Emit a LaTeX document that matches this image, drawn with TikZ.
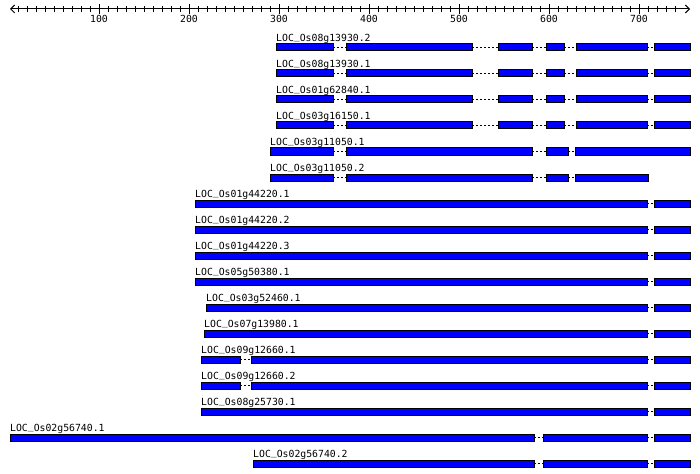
\documentclass[tikz,border=0pt]{standalone}
\usepackage{fontspec}
\setmonofont{DejaVu Sans Mono}
\usetikzlibrary{arrows.meta}
\definecolor{exonblue}{RGB}{0,0,255}
\newcommand\us{\raisebox{2pt}{\_}}
\newcommand\txrow[4]{%
  \pgfmathsetmacro\yc{47.5+26*(#1-1)}%
  \node[lbl] (lab#1) at (#3,\yc-6) {#2};
  \foreach \a/\b [remember=\b as \pb (initially none)] in {#4} {
    \ifx\pb\nonemark\else
      \draw[intron] (\pb,\yc) -- (\a,\yc);
    \fi
  }
  \foreach \a/\b in {#4} {
    \draw[exon] (\a,\yc-3.5) rectangle (\b,\yc+3.5);
  }
}
\def\nonemark{none}
\begin{document}
\begin{tikzpicture}[x=1pt,y=-1pt,
  exon/.style={draw=black, fill=exonblue, line width=1pt},
  intron/.style={draw=black, line width=1pt, dash pattern=on 2pt off 2pt},
  lbl/.style={font=\ttfamily\fontsize{9.8}{10}\selectfont, anchor=base west, inner sep=0pt},
  ticklbl/.style={font=\ttfamily\fontsize{9.8}{10}\selectfont, anchor=base, inner sep=0pt},
  axisline/.style={line width=1pt},
  barb/.tip={Straight Barb[length=4pt,width=8pt,line width=1pt]}]
\useasboundingbox (0,0) rectangle (700,473);
% axis
\coordinate (axL) at (10,9);
\coordinate (axR) at (690,9);
\draw[axisline, barb-barb] (axL) -- (axR);
\foreach \u in {10,20,...,740} {
  \draw[axisline] ({9+0.9*\u},6) -- ++(0,6);
}
\foreach \u in {100,200,...,700} {
  \draw[axisline] ({9+0.9*\u},4) -- ++(0,10);
  \node[ticklbl] (t\u) at ({9+0.9*\u},23) {\u};
}
% transcripts
\txrow{1}{LOC\us Os08g13930.2}{276}{276/333,346/472,498/532,546/564,576/647,654/690}
\txrow{2}{LOC\us Os08g13930.1}{276}{276/333,346/472,498/532,546/564,576/647,654/690}
\txrow{3}{LOC\us Os01g62840.1}{276}{276/333,346/472,498/532,546/564,576/647,654/690}
\txrow{4}{LOC\us Os03g16150.1}{276}{276/333,346/472,498/532,546/564,576/647,654/690}
\txrow{5}{LOC\us Os03g11050.1}{270}{270/333,346/532,546/568,575/690}
\txrow{6}{LOC\us Os03g11050.2}{270}{270/333,346/532,546/568,575/648}
\txrow{7}{LOC\us Os01g44220.1}{195}{195/647,654/690}
\txrow{8}{LOC\us Os01g44220.2}{195}{195/647,654/690}
\txrow{9}{LOC\us Os01g44220.3}{195}{195/647,654/690}
\txrow{10}{LOC\us Os05g50380.1}{195}{195/647,654/690}
\txrow{11}{LOC\us Os03g52460.1}{206}{206/647,654/690}
\txrow{12}{LOC\us Os07g13980.1}{204}{204/647,654/690}
\txrow{13}{LOC\us Os09g12660.1}{201}{201/240,251/647,654/690}
\txrow{14}{LOC\us Os09g12660.2}{201}{201/240,251/647,654/690}
\txrow{15}{LOC\us Os08g25730.1}{201}{201/647,654/690}
\txrow{16}{LOC\us Os02g56740.1}{10}{10/534,543/647,654/690}
\txrow{17}{LOC\us Os02g56740.2}{253}{253/534,543/647,654/690}
\end{tikzpicture}
\end{document}
